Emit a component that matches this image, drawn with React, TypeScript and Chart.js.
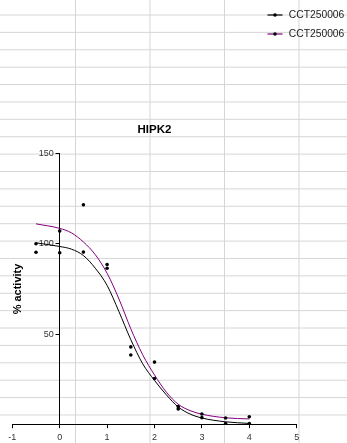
import React, { useEffect, useRef } from 'react';
import { Chart, registerables } from 'chart.js';

Chart.register(...registerables);

const FONT = '"Liberation Sans", Arial, Helvetica, sans-serif';

const CHART_TITLE = 'HIPK2';
const Y_TITLE = '% activity';
const SERIES_NAMES = ['CCT250006', 'CCT250006'];
const SERIES_COLORS = ['#000000', '#800080'];

// measured data points (log dose vs % activity)
const doseX = [-0.5, 0, 0.5, 1, 1.5, 2, 2.5, 3, 3.5, 4];
const blackPoints = [95.3, 95, 95.4, 86.5, 38.5, 25.5, 8.7, 3.9, 0.7, 0.7];
const purplePoints = [100, 107, 121.5, 88.5, 43, 34.6, 10, 5.9, 3.7, 4.4];

// fitted curves
const curveX = [-0.5, 0, 0.25, 0.5, 0.75, 1, 1.25, 1.5, 1.75, 2, 2.25, 2.5, 2.75, 3, 3.5, 4];
const blackCurve = [100.5, 98.5, 97, 93.5, 86.5, 77, 62.5, 47, 33.7, 24.5, 16.5, 9.8, 5.9, 3.7, 1.6, 0.7];
const purpleCurve = [111, 108.5, 106, 101, 94, 83.7, 69.5, 53, 38.7, 27.5, 18, 11.3, 7.8, 5.8, 3.8, 3.2];

const X_MIN = -1;
const X_MAX = 5;
const Y_MIN = 0;
const Y_MAX = 150;

const toXY = (xs: number[], ys: number[]) => xs.map((x, i) => ({ x, y: ys[i] }));

export default function App() {
  const ref = useRef<HTMLCanvasElement>(null);

  useEffect(() => {
    if (!ref.current) return;

    const cellGrid = {
      id: 'cellGrid',
      beforeDraw(chart: any) {
        const { ctx, width, height } = chart;
        ctx.save();
        ctx.fillStyle = '#ffffff';
        ctx.fillRect(0, 0, width, height);
        ctx.strokeStyle = '#d6d6d6';
        ctx.lineWidth = 1;
        ctx.beginPath();
        for (let k = 0; k < 24; k++) {
          const y = 15 + k * 17.39;
          ctx.moveTo(0, y);
          ctx.lineTo(width, y);
        }
        for (let k = 0; k < 4; k++) {
          const x = 75.5 + k * 74.5;
          ctx.moveTo(x, 0);
          ctx.lineTo(x, height);
        }
        ctx.stroke();
        ctx.restore();
      },
    };

    // y axis sits at x = 0; push its tick labels left of the tick marks
    const yLabelShift = {
      id: 'yLabelShift',
      afterLayout(chart: any) {
        const s = chart.scales.y;
        if (!s || s._shiftPatched) return;
        const orig = s.drawLabels.bind(s);
        s.drawLabels = (area: any) => {
          const ctx = s.ctx;
          ctx.save();
          ctx.translate(-(s.options.grid.tickLength + s.options.ticks.padding), 0);
          orig(area);
          ctx.restore();
        };
        s._shiftPatched = true;
      },
    };

    const lineLegend = {
      id: 'lineLegend',
      afterDraw(chart: any) {
        const { ctx } = chart;
        ctx.save();
        ctx.font = `10.3px ${FONT}`;
        ctx.textBaseline = 'middle';
        ctx.textAlign = 'left';
        SERIES_NAMES.forEach((name, i) => {
          const y = 15 + i * 19;
          const x0 = 267.5;
          const x1 = 282.5;
          ctx.strokeStyle = SERIES_COLORS[i];
          ctx.lineWidth = 1.2;
          ctx.beginPath();
          ctx.moveTo(x0, y);
          ctx.lineTo(x1, y);
          ctx.stroke();
          ctx.fillStyle = '#000';
          ctx.beginPath();
          ctx.arc((x0 + x1) / 2, y, 1.8, 0, Math.PI * 2);
          ctx.fill();
          ctx.fillStyle = '#222';
          ctx.fillText(name, 288.8, y);
        });
        ctx.restore();
      },
    };

    const chart = new Chart(ref.current, {
      type: 'scatter',
      data: {
        datasets: [
          {
            type: 'scatter',
            label: SERIES_NAMES[0] + ' data',
            data: toXY(doseX, blackPoints),
            pointRadius: 1.8,
            backgroundColor: '#000',
            borderColor: '#000',
            borderWidth: 0,
          },
          {
            type: 'scatter',
            label: SERIES_NAMES[1] + ' data',
            data: toXY(doseX, purplePoints),
            pointRadius: 1.8,
            backgroundColor: '#000',
            borderColor: '#000',
            borderWidth: 0,
          },
          {
            type: 'line',
            label: SERIES_NAMES[0],
            data: toXY(curveX, blackCurve),
            borderColor: SERIES_COLORS[0],
            borderWidth: 1,
            pointRadius: 0,
            fill: false,
            cubicInterpolationMode: 'monotone',
          },
          {
            type: 'line',
            label: SERIES_NAMES[1],
            data: toXY(curveX, purpleCurve),
            borderColor: SERIES_COLORS[1],
            borderWidth: 1,
            pointRadius: 0,
            fill: false,
            cubicInterpolationMode: 'monotone',
          },
        ] as any,
      },
      options: {
        animation: false,
        responsive: false,
        maintainAspectRatio: false,
        layout: { padding: 0 },
        plugins: {
          legend: { display: false },
          tooltip: { enabled: false },
          title: {
            display: true,
            text: CHART_TITLE,
            fullSize: false,
            color: '#000',
            font: { family: FONT, size: 11.5, weight: 'bold' },
            padding: { top: 122.6, bottom: 16.9 },
          },
        },
        scales: {
          x: {
            type: 'linear',
            position: 'bottom',
            min: X_MIN,
            max: X_MAX,
            ticks: { stepSize: 1, color: '#333', font: { family: FONT, size: 9 }, padding: 4 },
            grid: { display: true, drawOnChartArea: false, drawTicks: true, tickLength: 3.5, color: '#000' },
            border: { display: true, color: '#000', width: 1 },
            afterFit: (s: any) => {
              s.height = 18.3;
            },
          },
          y: {
            type: 'linear',
            position: { x: 0 },
            min: Y_MIN,
            max: Y_MAX,
            ticks: {
              stepSize: 50,
              color: '#333',
              font: { family: FONT, size: 9 },
              padding: 2.5,
              callback: (v: any) => (v === 0 ? '' : String(v)),
            },
            grid: { display: true, drawOnChartArea: false, drawTicks: true, tickLength: 3.5, color: '#000' },
            border: { display: true, color: '#000', width: 1 },
          },
          yT: {
            type: 'linear',
            position: 'left',
            display: true,
            ticks: { display: false },
            grid: { display: false },
            border: { display: false },
            title: {
              display: true,
              text: Y_TITLE,
              color: '#000',
              font: { family: FONT, size: 11, weight: 'bold' },
              padding: { top: 10.9, bottom: 0 },
            },
            afterFit: (s: any) => {
              s.width = 12.3;
            },
          },
          yR: {
            type: 'linear',
            position: 'right',
            display: true,
            ticks: { display: false },
            grid: { display: false },
            border: { display: false },
            afterFit: (s: any) => {
              s.width = 50.3;
            },
          },
        },
      } as any,
      plugins: [cellGrid, yLabelShift, lineLegend],
    });

    return () => chart.destroy();
  }, []);

  return (
    <div style={{ position: 'absolute', left: 0, top: 0, width: 347, height: 443 }}>
      <canvas ref={ref} width={347} height={443} style={{ display: 'block', width: 347, height: 443 }} />
    </div>
  );
}
